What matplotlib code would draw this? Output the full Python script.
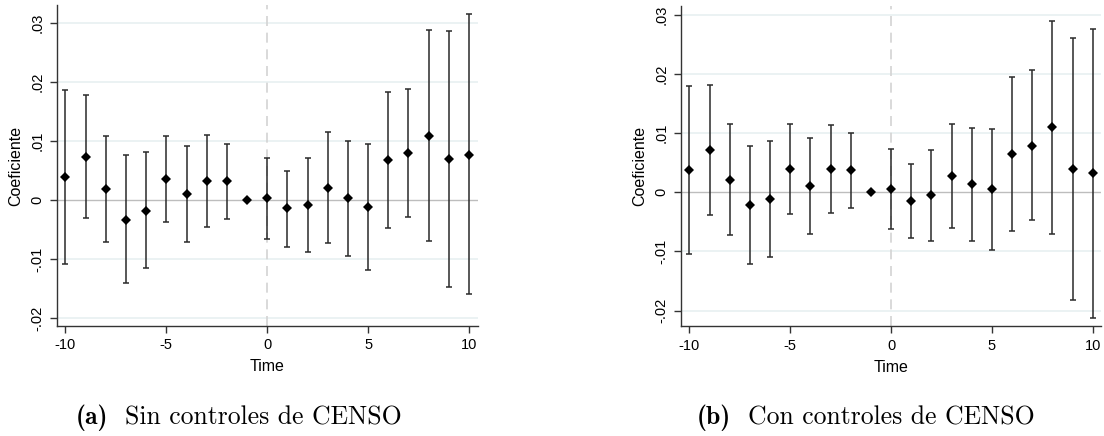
import matplotlib
matplotlib.use("Agg")
import matplotlib.pyplot as plt
import numpy as np

# Event time
time = list(range(-10, 11))

# Panel (a): without census controls
coef_a = [0.0040, 0.0073, 0.0019, -0.0033, -0.0018, 0.0036, 0.0010, 0.0032, 0.0032, 0.0,
          0.0003, -0.0014, -0.0009, 0.0021, 0.0003, -0.0011, 0.0068, 0.0080, 0.0109, 0.0069, 0.0077]
hi_a = [0.0186, 0.0179, 0.0108, 0.0076, 0.0081, 0.0109, 0.0091, 0.0111, 0.0096, 0.0,
        0.0072, 0.0050, 0.0071, 0.0116, 0.0101, 0.0095, 0.0183, 0.0188, 0.0289, 0.0287, 0.0315]
lo_a = [-0.0108, -0.0030, -0.0071, -0.0141, -0.0116, -0.0037, -0.0071, -0.0046, -0.0032, 0.0,
        -0.0066, -0.0079, -0.0088, -0.0072, -0.0094, -0.0118, -0.0047, -0.0028, -0.0069, -0.0147, -0.0160]

# Panel (b): with census controls
coef_b = [0.0038, 0.0071, 0.0021, -0.0022, -0.0012, 0.0039, 0.0011, 0.0039, 0.0037, 0.0,
          0.0005, -0.0014, -0.0005, 0.0028, 0.0014, 0.0005, 0.0064, 0.0079, 0.0110, 0.0039, 0.0033]
hi_b = [0.0180, 0.0182, 0.0115, 0.0078, 0.0086, 0.0116, 0.0091, 0.0114, 0.0100, 0.0,
        0.0073, 0.0048, 0.0071, 0.0115, 0.0109, 0.0107, 0.0194, 0.0206, 0.0290, 0.0261, 0.0276]
lo_b = [-0.0104, -0.0039, -0.0072, -0.0121, -0.0109, -0.0037, -0.0070, -0.0035, -0.0027, 0.0,
        -0.0062, -0.0077, -0.0082, -0.0060, -0.0082, -0.0097, -0.0066, -0.0047, -0.0070, -0.0182, -0.0212]

y_ticks = [-0.02, -0.01, 0.0, 0.01, 0.02, 0.03]
y_tick_labels = ["-.02", "-.01", "0", ".01", ".02", ".03"]
x_ticks = [-10, -5, 0, 5, 10]
x_tick_labels = ["-10", "-5", "0", "5", "10"]

captions = [("(a)", "Sin controles de CENSO"), ("(b)", "Con controles de CENSO")]

plt.rcParams["font.family"] = ["Liberation Sans", "DejaVu Sans"]

W, H = 1104, 436
fig = plt.figure(figsize=(W / 100, H / 100), dpi=100)

panels = [
    dict(rect=[0.0514, 0.2523, 0.3813, 0.7362], ylim=(-0.02136, 0.0331),
         coef=coef_a, lo=lo_a, hi=hi_a, cap_cx=239),
    dict(rect=[0.6166, 0.2516, 0.3810, 0.7346], ylim=(-0.02264, 0.03147),
         coef=coef_b, lo=lo_b, hi=hi_b, cap_cx=866),
]

spine_col = "#333333"
grid_col = "#E8F0F1"
cap_size = 18.5
cap_gap = 17  # pixels between the tag and the caption text
cap_base = 0.027

renderer = fig.canvas.get_renderer()

for p, (tag, text) in zip(panels, captions):
    ax = fig.add_axes(p["rect"])
    coef = np.array(p["coef"])
    lo = np.array(p["lo"])
    hi = np.array(p["hi"])
    ax.set_xlim(-10.43, 10.43)
    ax.set_ylim(*p["ylim"])

    for yt in y_ticks:
        if yt != 0:
            ax.axhline(yt, color=grid_col, lw=1.2, zorder=0)
    ax.axhline(0, color="#BDBDBD", lw=1.0, zorder=1)
    ax.axvline(0, color="#D3D3D3", lw=1.2, ls=(0, (6, 4)), zorder=1)

    ax.errorbar(time, coef, yerr=[coef - lo, hi - coef], fmt="none",
                ecolor="#2A2A2A", elinewidth=1.1, capsize=2.3, capthick=1.1, zorder=2)
    ax.plot(time, coef, ls="none", marker="D", ms=5.0, color="black",
            mec="black", mew=0, zorder=3)

    for side in ("top", "right"):
        ax.spines[side].set_visible(False)
    for side in ("left", "bottom"):
        ax.spines[side].set_color(spine_col)
        ax.spines[side].set_linewidth(1.0)

    ax.set_yticks(y_ticks)
    ax.set_yticklabels(y_tick_labels, rotation=90, va="center")
    ax.set_xticks(x_ticks)
    ax.set_xticklabels(x_tick_labels)
    ax.tick_params(axis="both", direction="out", length=5, width=1.0,
                   color=spine_col, labelsize=10.5, labelcolor="black", pad=4)
    ax.set_ylabel("Coeficiente", fontsize=11.5, labelpad=5)
    ax.set_xlabel("Time", fontsize=11.5, labelpad=5)

    # Caption: bold tag followed by the regular text, centred as a block
    t1 = fig.text(0, cap_base, tag, fontsize=cap_size, family="cmb10",
                  ha="left", va="baseline")
    t2 = fig.text(0, cap_base, text, fontsize=cap_size, family="cmr10",
                  ha="left", va="baseline")
    w1 = t1.get_window_extent(renderer).width
    w2 = t2.get_window_extent(renderer).width
    x0 = p["cap_cx"] - (w1 + cap_gap + w2) / 2
    t1.set_x(x0 / W)
    t2.set_x((x0 + w1 + cap_gap) / W)

fig.savefig("out.png", dpi=100)
